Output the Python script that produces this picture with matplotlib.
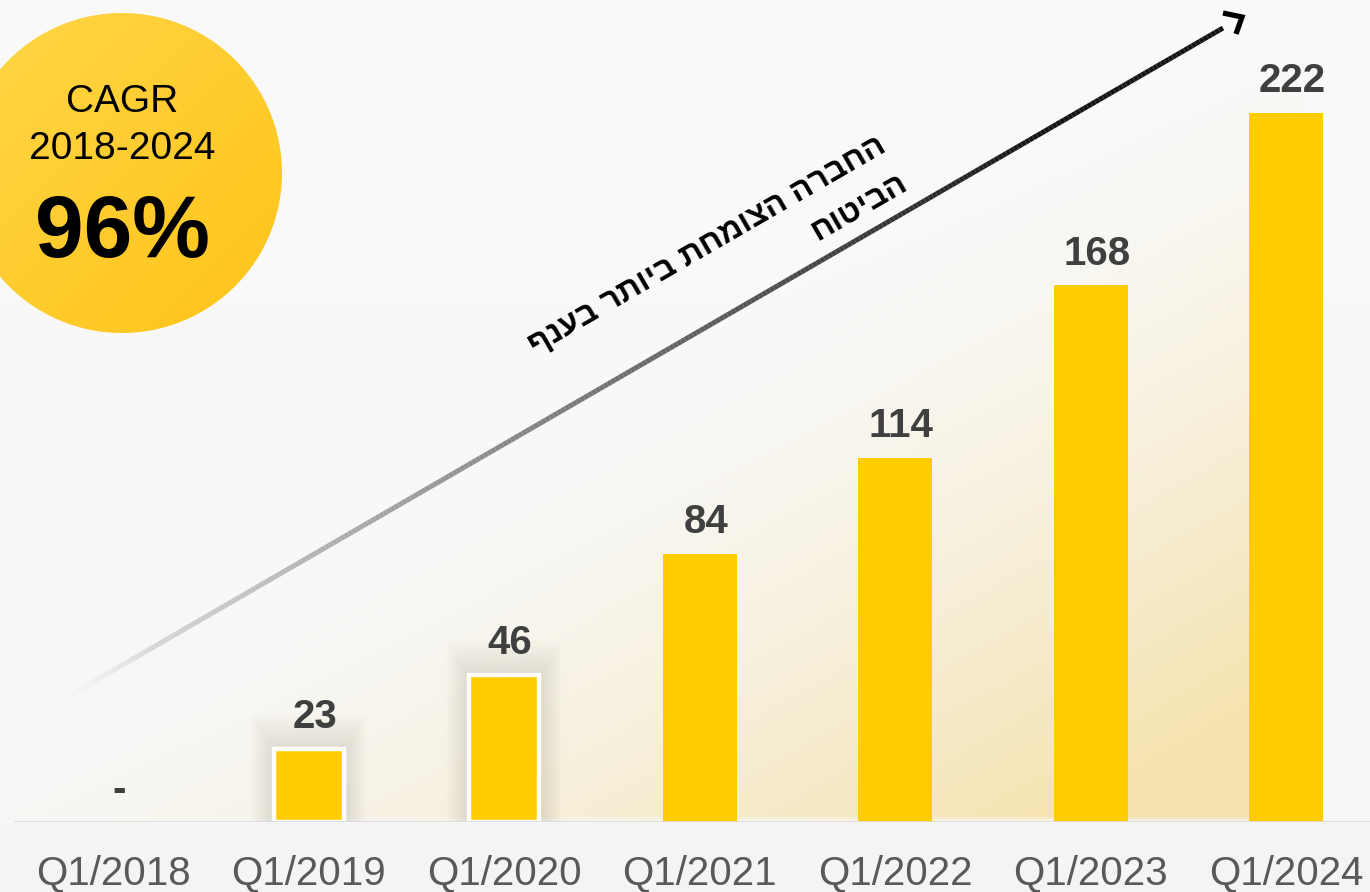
import numpy as np
import matplotlib
matplotlib.use("Agg")
import matplotlib.pyplot as plt
from matplotlib.collections import LineCollection
from matplotlib.patches import Circle

# ---------------- data ----------------
categories = ["Q1/2018", "Q1/2019", "Q1/2020", "Q1/2021", "Q1/2022", "Q1/2023", "Q1/2024"]
values = [0, 23, 46, 84, 114, 168, 222]
value_labels = ["-", "23", "46", "84", "114", "168", "222"]
bordered = [False, True, True, False, False, False, False]
cagr_title = "CAGR"
cagr_period = "2018-2024"
cagr_value = "96%"
arrow_line1 = "החברה הצומחת ביותר בענף"
arrow_line2 = "הביטוח"

plt.rcParams['font.family'] = ['Liberation Sans', 'DejaVu Sans']

W, H = 1370, 892
fig = plt.figure(figsize=(W / 100, H / 100), dpi=100)
fig.patch.set_facecolor("#F7F7F7")

# ---------------- background (decorative) ----------------
bg = fig.add_axes([0, 0, 1, 1], zorder=0)
bg.set_xlim(0, W); bg.set_ylim(H, 0); bg.axis("off")
X, Y = np.meshgrid(np.arange(W) + 0.5, np.arange(H) + 0.5)
slope = (700 - 28) / (1223 - 62)
y_line = 700 - slope * (X - 62)
d = (Y - y_line) * np.cos(np.arctan(slope))
a = np.clip(d / 620, 0, 1) ** 1.5
a *= np.clip((1322 - X) / 30, 0, 1)
a *= np.clip((822 - Y) / 6, 0, 1)
base = np.array([247, 247, 247]) / 255
top = np.array([250, 250, 250]) / 255
warm = np.array([245, 226, 172]) / 255
vert = (Y / H)[..., None]
basecol = top * (1 - vert) + base * vert
img = basecol * (1 - a[..., None]) + warm * a[..., None]
img[Y > 823] = np.array([244, 244, 244]) / 255
bg.imshow(img, extent=(0, W, H, 0), aspect="auto", interpolation="bilinear")

# ---------------- main bar axes ----------------
step = 195.5
x_first = 113
px_per_unit = 3.194
ax = fig.add_axes([0, 70 / H, 1, 822 / H], zorder=1)
ax.set_facecolor("none")
ax.set_xlim(-x_first / step, (W - x_first) / step)
ax.set_ylim(0, 822 / px_per_unit)
xs = np.arange(len(categories))
bw = 74 / step

# soft shadows for the bordered bars
for i, (x, v, b) in enumerate(zip(xs, values, bordered)):
    if b:
        for k in range(1, 13):
            ax.bar(x, v + k * 0.9, width=bw + k * 3.5 / step, color="#6a5a40",
                   alpha=0.013, linewidth=0, zorder=1)

for x, v, b in zip(xs, values, bordered):
    if b:
        ax.bar(x, v, width=bw - 4 / step, color="#FFCC00", edgecolor="white",
               linewidth=3.2, zorder=3)
    else:
        ax.bar(x, v, width=bw, color="#FFCC00", linewidth=0, zorder=3)

for x, v, lab in zip(xs, values, value_labels):
    ax.annotate(lab, (x, v), xytext=(4.5, 15), textcoords="offset points",
                ha="center", va="baseline", fontsize=29, fontweight="bold",
                color="#3F3F3F", zorder=5)

ax.axhline(0, xmin=15 / W, xmax=1, color="#D9D9D9", linewidth=2, zorder=4)
ax.set_xticks(xs, categories, fontsize=29, color="#595959")
ax.tick_params(axis="x", length=0, pad=23)
ax.set_yticks([])
for s in ax.spines.values():
    s.set_visible(False)

# ---------------- overlay: circle, arrow, hebrew text ----------------
ov = fig.add_axes([0, 0, 1, 1], zorder=2)
ov.set_facecolor("none")
ov.set_xlim(0, W); ov.set_ylim(H, 0); ov.axis("off")

cx, cy, r = 122, 173, 160
gx, gy = np.meshgrid(np.linspace(0, 1, 200), np.linspace(0, 1, 200))
t = (gx + gy) / 2
c1 = np.array([255, 214, 72]) / 255
c2 = np.array([255, 196, 24]) / 255
cimg = c1 * (1 - t[..., None]) + c2 * t[..., None]
circ = Circle((cx, cy), r, transform=ov.transData, facecolor="none", edgecolor="none")
ov.add_patch(circ)
im = ov.imshow(cimg, extent=(cx - r, cx + r, cy + r, cy - r), aspect="auto", zorder=2)
im.set_clip_path(circ)

ov.text(cx, 112, cagr_title, ha="center", va="baseline", fontsize=28, color="black", zorder=3)
ov.text(cx, 159, cagr_period, ha="center", va="baseline", fontsize=28, color="black", zorder=3)
ov.text(cx, 257, cagr_value, ha="center", va="baseline", fontsize=63, fontweight="bold",
        color="black", zorder=3)

# gradient arrow line
x0, y0, x1, y1 = 62, 700, 1223, 28
n = 300
tt = np.linspace(0, 1, n + 1)
px = x0 + (x1 - x0) * tt
py = y0 + (y1 - y0) * tt
segs = np.stack([np.column_stack([px[:-1], py[:-1]]), np.column_stack([px[1:], py[1:]])], axis=1)
tm = (tt[:-1] + tt[1:]) / 2
g = np.clip(0.92 - 1.0 * tm, 0.08, 1)
al = np.clip(tm / 0.08, 0, 1)
cols = np.column_stack([g, g, g, al])
lc = LineCollection(segs, colors=cols, linewidths=3.6, capstyle="butt", zorder=3)
ov.add_collection(lc)
ov.plot([1223, 1242, 1236], [13, 17, 34], color="black", linewidth=3.8,
        solid_joinstyle="miter", solid_capstyle="butt", zorder=3)

ang = np.degrees(np.arctan(slope))
ov.text(707, 246, arrow_line1[::-1], rotation=ang, rotation_mode="anchor",
        ha="center", va="center", fontsize=23, fontweight="bold", color="black", zorder=3)
ov.text(859, 208, arrow_line2[::-1], rotation=ang, rotation_mode="anchor",
        ha="center", va="center", fontsize=23, fontweight="bold", color="black", zorder=3)

fig.savefig("out.png", dpi=100, facecolor=fig.get_facecolor())
